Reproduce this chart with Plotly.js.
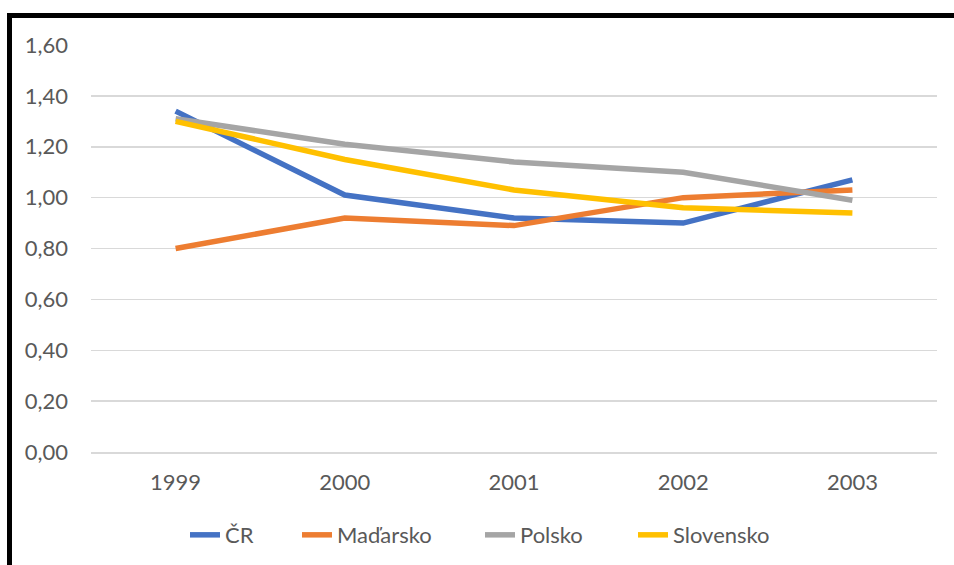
<!DOCTYPE html>
<html>
<head>
<meta charset="utf-8">
<script src="https://cdn.plot.ly/plotly-3.0.1.min.js"></script>
<style>
html,body{margin:0;padding:0;background:#fff;}
#wrap{position:relative;width:954px;height:565px;overflow:hidden;}
#chart{width:954px;height:565px;}
#frame{position:absolute;left:7px;top:13px;width:1000px;height:600px;border-left:5px solid #000;border-top:5px solid #000;pointer-events:none;}
</style>
</head>
<body>
<div id="wrap"><div id="chart"></div><div id="frame"></div></div>
<script>
const years = ['1999', '2000', '2001', '2002', '2003'];
const cr = [1.34, 1.01, 0.92, 0.90, 1.07];
const madarsko = [0.80, 0.92, 0.89, 1.00, 1.03];
const polsko = [1.31, 1.21, 1.14, 1.10, 0.99];
const slovensko = [1.30, 1.15, 1.03, 0.96, 0.94];
const names = ['ČR', 'Maďarsko', 'Polsko', 'Slovensko'];
const colors = ['#4472C4', '#ED7D31', '#A5A5A5', '#FFC000'];
const series = [cr, madarsko, polsko, slovensko];
const legendWidths = [67, 138, 108, 95];
const yTicks = [0, 0.2, 0.4, 0.6, 0.8, 1.0, 1.2, 1.4, 1.6];
const yTickText = ['0,00', '0,20', '0,40', '0,60', '0,80', '1,00', '1,20', '1,40', '1,60'];

const traces = series.map((s, i) => ({
  type: 'scatter', mode: 'lines', x: years, y: s, name: names[i],
  legendwidth: legendWidths[i],
  line: {color: colors[i], width: 5.5}, hoverinfo: 'skip'
}));

const layout = {
  width: 954, height: 565,
  margin: {l: 91, r: 17, t: 45, b: 113, autoexpand: false},
  paper_bgcolor: '#fff', plot_bgcolor: '#fff',
  font: {family: 'Lato, "Open Sans", sans-serif', size: 22, color: '#595959'},
  showlegend: true,
  legend: {orientation: 'h', x: (185 - 91) / 846, xanchor: 'left', y: -0.204, yanchor: 'middle',
           font: {size: 22, color: '#595959'}, traceorder: 'normal'},
  xaxis: {type: 'category', range: [-0.5, 4.5], showgrid: false, zeroline: false,
          showline: true, linecolor: '#D9D9D9', linewidth: 1.5, ticks: '',
          ticklabelstandoff: 10, fixedrange: true, automargin: false},
  yaxis: {range: [0, 1.6], tickvals: yTicks, ticktext: yTickText, showgrid: true,
          gridcolor: '#D9D9D9', gridwidth: 1.5, zeroline: false, showline: false,
          ticks: '', ticklabelstandoff: 22, fixedrange: true, automargin: false}
};

Plotly.newPlot('chart', traces, layout, {displayModeBar: false, staticPlot: true});
</script>
</body>
</html>
